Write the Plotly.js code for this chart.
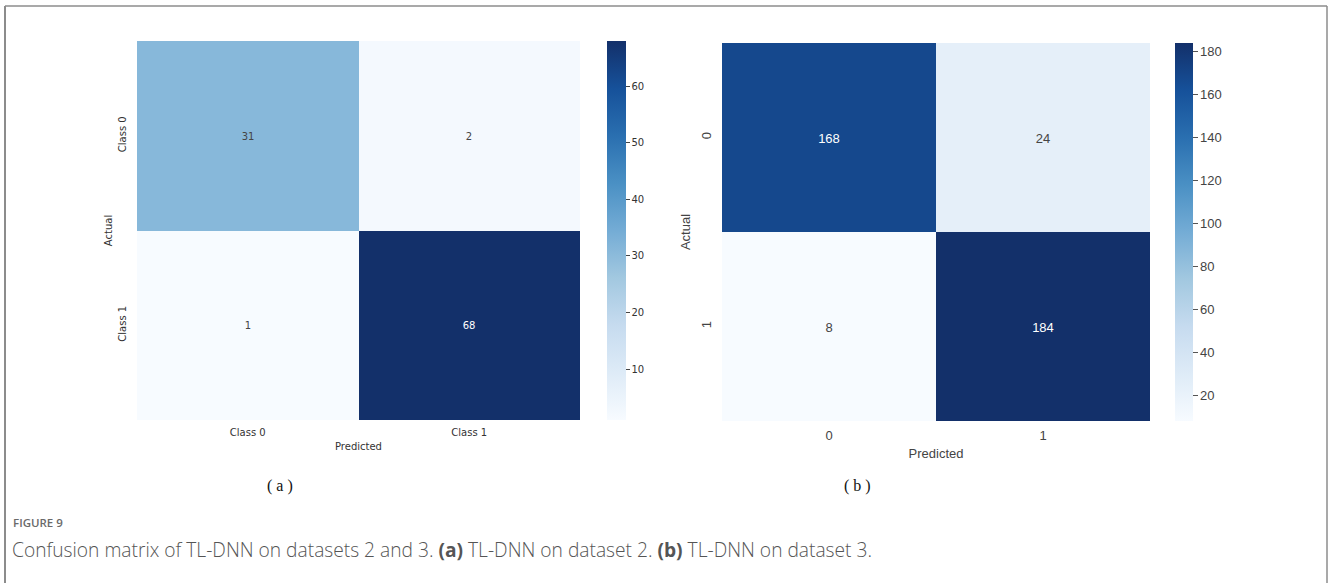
<!DOCTYPE html>
<html>
<head>
<meta charset="utf-8">
<script src="https://cdn.plot.ly/plotly-3.0.1.min.js"></script>
<style>html,body{margin:0;padding:0;background:#fff;}#chart{width:1328px;height:583px;}</style>
</head>
<body>
<div id="chart"></div>
<script>
// ---- data ----
const predictedA = ['Class 0', 'Class 1'];
const actualA = ['Class 0', 'Class 1'];
const valuesA = [[31, 2], [1, 68]];
const colorTicksA = [10, 20, 30, 40, 50, 60];

const predictedB = ['0', '1'];
const actualB = ['0', '1'];
const valuesB = [[168, 24], [8, 184]];
const colorTicksB = [20, 40, 60, 80, 100, 120, 140, 160, 180];

const panelLabels = ['( a )', '( b )'];
const figureLabel = 'FIGURE 9';
const captionText = 'Confusion matrix of TL-DNN on datasets 2 and 3. <b>(a)</b> TL-DNN on dataset 2. <b>(b)</b> TL-DNN on dataset 3.';

// matplotlib "Blues" (slightly softened as in the reference image)
const blues = [
  [0.0, '#f7fbff'], [0.125, '#deebf7'], [0.25, '#c6dbef'], [0.375, '#a2c8e0'],
  [0.5, '#74acd5'], [0.625, '#4a90c4'], [0.75, '#2a6fb0'], [0.875, '#16519a'], [1.0, '#13306a']
];

const W = 1328, H = 583;
const px = v => v / W;
const py = v => 1 - v / H;

function flat(a) { return [].concat(...a); }

const fontA = {family: 'DejaVu Sans, sans-serif', size: 10, color: '#333'};
const fontB = {family: 'Liberation Sans, Arial, sans-serif', size: 13, color: '#444'};

const traceA = {
  type: 'heatmap', x: predictedA, y: actualA, z: valuesA,
  xaxis: 'x', yaxis: 'y',
  colorscale: blues, zmin: Math.min(...flat(valuesA)), zmax: Math.max(...flat(valuesA)),
  texttemplate: '%{z}', textfont: {family: 'DejaVu Sans, sans-serif', size: 10},
  hoverinfo: 'skip',
  colorbar: {
    x: px(607), xanchor: 'left', xpad: 0, ypad: 0,
    y: py(230.5), yanchor: 'middle', len: 379 / H, lenmode: 'fraction',
    thickness: 19, thicknessmode: 'pixels', outlinewidth: 0,
    tickvals: colorTicksA, ticks: 'outside', ticklen: 4, tickcolor: '#444',
    tickfont: fontA
  }
};

const traceB = {
  type: 'heatmap', x: predictedB, y: actualB, z: valuesB,
  xaxis: 'x2', yaxis: 'y2',
  colorscale: blues, zmin: Math.min(...flat(valuesB)), zmax: Math.max(...flat(valuesB)),
  texttemplate: '%{z}', textfont: {family: 'Liberation Sans, Arial, sans-serif', size: 13},
  hoverinfo: 'skip',
  colorbar: {
    x: px(1175), xanchor: 'left', xpad: 0, ypad: 0,
    y: py(232), yanchor: 'middle', len: 378 / H, lenmode: 'fraction',
    thickness: 18, thicknessmode: 'pixels', outlinewidth: 0,
    tickvals: colorTicksB, ticks: 'outside', ticklen: 5, tickcolor: '#555',
    tickfont: fontB
  }
};

const border = {type: 'line', xref: 'paper', yref: 'paper', line: {color: '#8c8c8c', width: 2}};

const layout = {
  width: W, height: H, autosize: false,
  margin: {l: 0, r: 0, t: 0, b: 0, pad: 0},
  paper_bgcolor: '#fff', plot_bgcolor: '#fff',
  showlegend: false,
  xaxis: {
    domain: [px(137), px(580)], anchor: 'y', type: 'category',
    showgrid: false, zeroline: false, showline: false, ticks: '', ticklabelstandoff: 5,
    tickfont: fontA, automargin: false,
    title: {text: 'Predicted', font: fontA, standoff: 5}
  },
  yaxis: {
    domain: [py(420), py(41)], anchor: 'x', type: 'category', autorange: 'reversed',
    showgrid: false, zeroline: false, showline: false, ticks: '', tickangle: -90, ticklabelstandoff: 8,
    tickfont: fontA, automargin: false,
    title: {text: 'Actual', font: fontA, standoff: 2}
  },
  xaxis2: {
    domain: [px(722), px(1150)], anchor: 'y2', type: 'category',
    showgrid: false, zeroline: false, showline: false, ticks: '', ticklabelstandoff: 5,
    tickfont: fontB, automargin: false,
    title: {text: 'Predicted', font: fontB, standoff: 6}
  },
  yaxis2: {
    domain: [py(421), py(43)], anchor: 'x2', type: 'category', autorange: 'reversed',
    showgrid: false, zeroline: false, showline: false, ticks: '', tickangle: -90, ticklabelstandoff: 7,
    tickfont: fontB, automargin: false,
    title: {text: 'Actual', font: fontB, standoff: 5}
  },
  shapes: [
    Object.assign({}, border, {x0: px(5), x1: px(5), y0: py(6), y1: 0}),
    Object.assign({}, border, {x0: px(5), x1: px(1327), y0: py(6), y1: py(6), line: {color: '#8c8c8c', width: 1.5}}),
    Object.assign({}, border, {x0: px(1327), x1: px(1327), y0: py(6), y1: 0, line: {color: '#8c8c8c', width: 1.5}})
  ],
  annotations: [
    {text: panelLabels[0], xref: 'paper', yref: 'paper', x: px(280), y: py(486), xanchor: 'center', yanchor: 'middle',
     showarrow: false, font: {family: 'Liberation Serif, DejaVu Serif, serif', size: 16, color: '#111'}},
    {text: panelLabels[1], xref: 'paper', yref: 'paper', x: px(857), y: py(486), xanchor: 'center', yanchor: 'middle',
     showarrow: false, font: {family: 'Liberation Serif, DejaVu Serif, serif', size: 16, color: '#111'}},
    {text: figureLabel, xref: 'paper', yref: 'paper', x: px(11), y: py(522), xanchor: 'left', yanchor: 'middle',
     showarrow: false, font: {family: 'Open Sans, sans-serif', size: 11.5, weight: 600, color: '#6a6a6a'}},
    {text: captionText, xref: 'paper', yref: 'paper', x: px(10), y: py(549), xanchor: 'left', yanchor: 'middle',
     showarrow: false, font: {family: 'Open Sans, sans-serif', size: 19.2, weight: 300, color: '#555'}}
  ]
};

Plotly.newPlot('chart', [traceA, traceB], layout, {displayModeBar: false, staticPlot: true});
</script>
</body>
</html>
